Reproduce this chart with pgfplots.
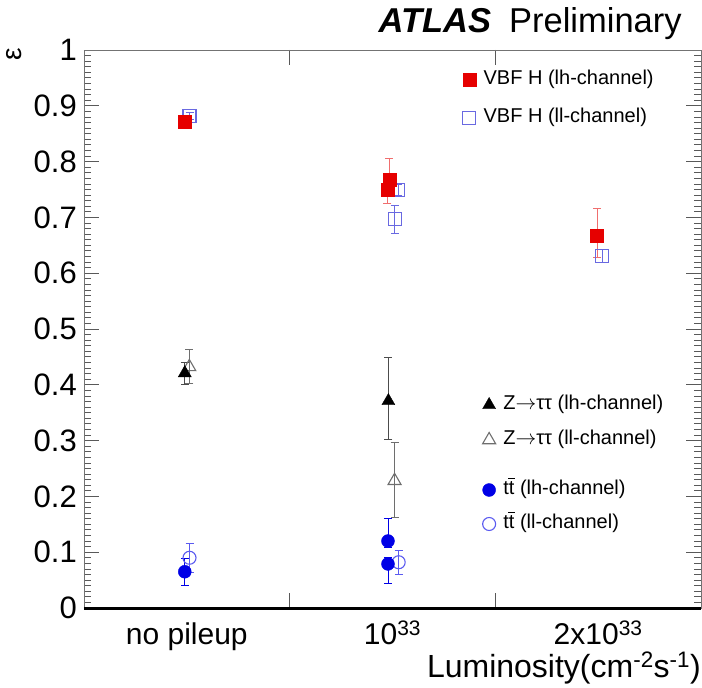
\documentclass[border=0pt]{standalone}
\usepackage{fontspec}
\setmainfont{Liberation Sans}
\usepackage{pgfplots}
\pgfplotsset{compat=1.18}

\definecolor{vbfred}{RGB}{230,0,0}
\definecolor{vbfredl}{RGB}{240,110,110}
\definecolor{vbfblue}{RGB}{105,105,225}
\definecolor{ttblue}{RGB}{0,0,230}
\definecolor{ttlight}{RGB}{90,90,240}
\definecolor{zgray}{RGB}{110,110,110}

\newcommand{\tb}{t\ooalign{t\cr\hidewidth\raisebox{0.78em}{\rule{0.34em}{0.06em}}\hidewidth\cr}}

\pgfplotsset{
  common/.style={
    width=617pt, height=558pt, scale only axis,
    xmin=-0.5, xmax=2.5, ymin=0, ymax=1, clip=false,
    legend cell align=left,
    legend style={draw=none, fill=none, inner sep=0pt,
      font=\fontsize{20}{22}\selectfont,
      nodes={inner sep=1pt, text height=14pt, text depth=5pt}},
    legend image code/.code={\draw[mark repeat=2,mark phase=2] plot coordinates {(0pt,0pt)(8pt,0pt)(16pt,0pt)}; \path (0pt,0pt) (21pt,0pt);},
  },
  eb/.style={error bars/.cd, y dir=both, y explicit,
    error bar style={line width=0.7pt},
    error mark options={line width=0.7pt, mark size=4pt, rotate=90}},
}

\begin{document}
\begin{tikzpicture}
\begin{axis}[common, name=ax,
  axis line style={black!55, line width=0.8pt},
  tick align=inside, tick pos=both,
  xtick={0.5,1.5}, xticklabels={,},
  extra x ticks={0,1,2},
  extra x tick labels={no pileup, 10\textsuperscript{33}, 2x10\textsuperscript{33}},
  extra x tick style={major tick length=0pt,
    tick label style={font=\fontsize{30}{32}\selectfont, inner sep=0pt, text height=22pt, text depth=0pt, anchor=north, yshift=-14pt}},
  ytick={0,0.1,...,1.01}, minor y tick num=9,
  major tick length=15pt, minor tick length=7pt,
  every tick/.style={black!65, line width=0.8pt},
  /pgf/number format/assume math mode=true,
  yticklabel style={font=\fontsize{31}{33}\selectfont, inner sep=0pt, anchor=east, xshift=-7pt},
  xlabel={Luminosity(cm\textsuperscript{-2}s\textsuperscript{-1})},
  xlabel style={at={(rel axis cs:1,0)}, anchor=base east, yshift=-69pt, inner sep=0pt, font=\fontsize{32}{34}\selectfont},
  ylabel={ε},
  ylabel style={at={(rel axis cs:-0.1135,0.993)}, anchor=center, inner sep=0pt, font=\fontsize{28}{28}\selectfont},
  legend style={at={(rel axis cs:0.611,0.912)}, anchor=west, row sep=17pt},
  reverse legend,
]
% VBF H (ll-channel)
\addplot+[only marks, mark=square, mark size=6.5pt, color=vbfblue, mark options={line width=1.1pt}, eb]
  table[x=x, y=y, y error=e] {
x y e
0.013 0.882 0.006
1.028 0.749 0.010
1.010 0.697 0.025
2.020 0.631 0.012
};
\addlegendentry{VBF H (ll-channel)}
% VBF H (lh-channel)
\addplot+[only marks, mark=square*, mark size=6.5pt, color=vbfred, mark options={fill=vbfred, draw=vbfred}, error bars/error bar style={vbfredl}, eb]
  table[x=x, y=y, y error plus=ep, y error minus=em] {
x y ep em
-0.010 0.871 0.004 0.004
0.985 0.767 0.039 0.010
0.975 0.749 0.010 0.023
1.995 0.668 0.049 0.040
};
\addlegendentry{VBF H (lh-channel)}
\node[anchor=base east, inner sep=0pt, font=\fontsize{34.5}{36}\selectfont] at (rel axis cs:0.969,1.0305) {{\bfseries\itshape ATLAS}\hspace{18pt}Preliminary};
\draw[line width=3pt, black] (rel axis cs:0,0) -- (rel axis cs:1,0);
\end{axis}

% Z -> tautau
\begin{axis}[common, hide axis,
  legend style={at={(rel axis cs:0.643,0.3325)}, anchor=west, row sep=14pt},
  reverse legend,
]
\addplot+[only marks, mark=triangle, mark size=7.5pt, color=zgray, mark options={line width=1.1pt}, eb]
  table[x=x, y=y, y error plus=ep, y error minus=em] {
x y ep em
0.012 0.432 0.032 0.030
1.010 0.228 0.069 0.065
};
\addlegendentry{Z$\rightarrow$ττ (ll-channel)}
\addplot+[only marks, mark=triangle*, mark size=7.5pt, color=black, mark options={fill=black}, error bars/error bar style={black!70}, eb]
  table[x=x, y=y, y error plus=ep, y error minus=em] {
x y ep em
-0.010 0.421 0.020 0.020
0.980 0.371 0.079 0.068
};
\addlegendentry{Z$\rightarrow$ττ (lh-channel)}
\end{axis}

% ttbar
\begin{axis}[common, hide axis,
  legend style={at={(rel axis cs:0.643,0.181)}, anchor=west, row sep=13pt},
  reverse legend,
]
\addplot+[only marks, mark=o, mark size=6.5pt, color=ttlight, mark options={line width=1.1pt}, eb]
  table[x=x, y=y, y error=e] {
x y e
0.013 0.090 0.026
1.030 0.082 0.022
};
\addlegendentry{\tb\ (ll-channel)}
\addplot+[only marks, mark=*, mark size=6.5pt, color=ttblue, mark options={fill=ttblue}, eb]
  table[x=x, y=y, y error plus=ep, y error minus=em] {
x y ep em
-0.010 0.065 0.024 0.024
0.978 0.120 0.041 0.012
0.978 0.079 0.012 0.034
};
\addlegendentry{\tb\ (lh-channel)}
\end{axis}

\pgfresetboundingbox
\path ([xshift=-84pt,yshift=-79pt]ax.south west) rectangle ([xshift=1pt,yshift=50pt]ax.north east);
\end{tikzpicture}
\end{document}
